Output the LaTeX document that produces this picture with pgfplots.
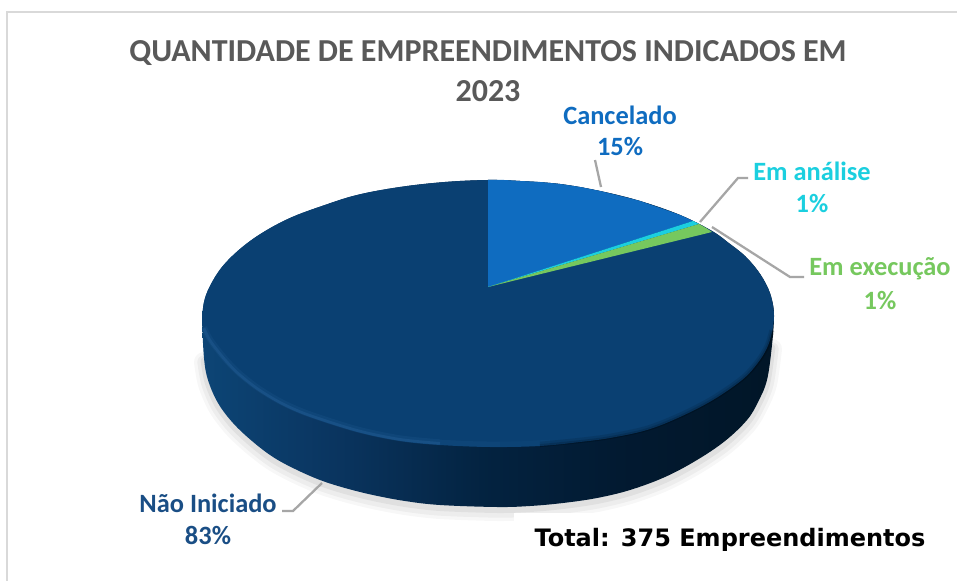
\documentclass[border=0pt]{standalone}
\usepackage{pgfplots}
\pgfplotsset{compat=1.18}
\usepackage{fontspec}
\setmainfont{Carlito}
\newfontfamily\totalfont{DejaVu Sans}
\definecolor{titlegray}{HTML}{595959}
\definecolor{leader}{HTML}{A6A6A6}
\definecolor{framegray}{HTML}{D9D9D9}
\definecolor{topdark}{HTML}{0A4072}
\definecolor{cancel}{HTML}{0F6CC0}
\definecolor{analise}{HTML}{1BCFDF}
\definecolor{execucao}{HTML}{76C85E}
\definecolor{naoinic}{HTML}{1A4E85}
\definecolor{bevel}{HTML}{4F8FD0}
\pgfdeclarehorizontalshading{sidefill}{100bp}{
  rgb(0bp)=(0.05,0.27,0.46); rgb(25bp)=(0.05,0.27,0.46); rgb(36bp)=(0.04,0.21,0.38);
  rgb(50bp)=(0.012,0.135,0.25); rgb(62bp)=(0.008,0.10,0.19); rgb(75bp)=(0.004,0.086,0.155); rgb(100bp)=(0.004,0.086,0.155)}

% whole pie seen from outside: top arc, then bottom of the side wall
\pgfplotstableread{
x y
202 320
204 302
210 286
222 267
240 249
262 233
290 218
322 206
357 195
400 187
445 182
488 180
520 181
560 184
600 191
640 201
680 215
712 231
730 244
745 256
758 271
767 286
772 300
774 316
772 345
767 380
758 402
747 420
725 441
697 460
665 477
630 490
597 498
563 503
530 506
497 507
440 505
405 501
373 495
345 488
320 480
295 469
273 457
252 441
233 423
218 403
208 380
204 358
202 320
}\pieoutline

% lower edge only, for the shadow
\pgfplotstableread{
x y
772 345
767 380
758 402
747 420
725 441
697 460
665 477
630 490
597 498
563 503
530 506
497 507
440 505
405 501
373 495
345 488
320 480
295 469
273 457
252 441
233 423
218 403
208 380
204 358
}\pielower

% top face: top arc, then front rim
\pgfplotstableread{
x y
202 320
204 302
210 286
222 267
240 249
262 233
290 218
322 206
357 195
400 187
445 182
488 180
520 181
560 184
600 191
640 201
680 215
712 231
730 244
745 256
758 271
767 286
772 300
774 316
772 332
767 348
757 364
742 380
713 400
680 417
647 430
610 438
580 442
540 446
490 447
440 445
400 441
357 432
307 416
280 404
257 390
237 374
223 359
210 342
204 330
202 320
}\topface

\pgfplotstableread{
x y
204 330
210 342
223 359
237 374
257 390
280 404
307 416
357 432
400 441
440 445
}\rimleft
\pgfplotstableread{
x y
540 446
580 442
610 438
647 430
680 417
713 400
742 380
757 364
767 348
772 332
}\rimright

\begin{document}
\begin{tikzpicture}
\begin{axis}[
    scale only axis,
    width=717.75pt, height=435.75pt,
    xmin=0, xmax=957, ymin=0, ymax=581,
    y dir=reverse,
    hide axis,
    clip=true,
]
% background and chart frame
\addplot[fill=white, draw=none] coordinates {(0,0) (957,0) (957,581) (0,581)} -- cycle;
\addplot[framegray, line width=2.2pt] coordinates {(7,581) (7,12) (957,12)};

% soft shadow under the pie
\addplot[black, opacity=0.03, line width=15pt, line cap=round, yshift=-3pt, smooth] table {\pielower};
\addplot[black, opacity=0.04, line width=10pt, line cap=round, yshift=-3pt, smooth] table {\pielower};
\addplot[black, opacity=0.05, line width=5pt, line cap=round, yshift=-2pt, smooth] table {\pielower};

% white box of the total covers the shadow
\addplot[fill=white, draw=none] coordinates {(514,513) (957,513) (957,581) (514,581)} -- cycle;

% side wall and top face
\addplot[shading=sidefill, shading angle=0, draw=none, smooth, tension=0.6] table {\pieoutline};
\addplot[fill=topdark, draw=none, smooth, tension=0.6] table {\topface};

% bevel on the rim, fading towards the right
\addplot[bevel, opacity=0.08, line width=4.5pt, yshift=2pt, smooth] table {\rimleft};
\addplot[bevel, opacity=0.14, line width=2pt, yshift=1.2pt, smooth] table {\rimleft};
\addplot[bevel, opacity=0.07, line width=4pt, yshift=2pt, smooth] coordinates {(440,445) (470,446.5) (500,447)};
\addplot[bevel, opacity=0.04, line width=4pt, yshift=2pt, smooth] coordinates {(500,447) (525,446.5) (550,445)};
\addplot[black, opacity=0.10, line width=4pt, yshift=1.2pt, smooth] table {\rimright};
\addplot[black, opacity=0.14, line width=2pt, yshift=0.4pt, smooth] table {\rimright};

% slices on the top face
\addplot[fill=cancel, draw=none] coordinates {
    (488,287) (488,180) (504,180) (520,181) (540,182) (560,184) (580,187) (600,191)
    (620,196) (640,201) (660,208) (680,215) (693,221)} -- cycle;
\addplot[fill=analise, draw=none] coordinates {(488,287) (693,221) (699,224)} -- cycle;
\addplot[fill=execucao, draw=none] coordinates {(488,287) (699,224) (706,228) (712,232)} -- cycle;

% leader lines
\addplot[leader, line width=1.7pt] coordinates {(595,160) (601,187)};
\addplot[leader, line width=1.7pt] coordinates {(748,178) (738,178) (700,222)};
\addplot[leader, line width=1.7pt] coordinates {(712,227) (790,277) (804,277)};
\addplot[leader, line width=1.7pt] coordinates {(282,511) (293,511) (322,483)};

% title
\node[text=titlegray, font=\fontsize{24}{28}\selectfont\bfseries] at (axis cs:488,53) {QUANTIDADE DE EMPREENDIMENTOS INDICADOS EM};
\node[text=titlegray, font=\fontsize{24}{28}\selectfont\bfseries] at (axis cs:488,91) {2023};

% data labels
\node[text=cancel, font=\fontsize{19.8}{23}\selectfont\bfseries] at (axis cs:620,115) {Cancelado};
\node[text=cancel, font=\fontsize{19.8}{23}\selectfont\bfseries] at (axis cs:620,147) {15\%};
\node[text=analise, font=\fontsize{19.8}{23}\selectfont\bfseries] at (axis cs:812,171) {Em análise};
\node[text=analise, font=\fontsize{19.8}{23}\selectfont\bfseries] at (axis cs:812,204) {1\%};
\node[text=execucao, font=\fontsize{19.8}{23}\selectfont\bfseries] at (axis cs:880,269) {Em execução};
\node[text=execucao, font=\fontsize{19.8}{23}\selectfont\bfseries] at (axis cs:880,301) {1\%};
\node[text=naoinic, font=\fontsize{19.8}{23}\selectfont\bfseries] at (axis cs:208,503) {Não Iniciado};
\node[text=naoinic, font=\fontsize{19.8}{23}\selectfont\bfseries] at (axis cs:208,535) {83\%};

% total
\node[text=black, font=\totalfont\fontsize{18}{21}\selectfont\bfseries] at (axis cs:730,540) {Total: 375 Empreendimentos};
\end{axis}
\end{tikzpicture}
\end{document}
